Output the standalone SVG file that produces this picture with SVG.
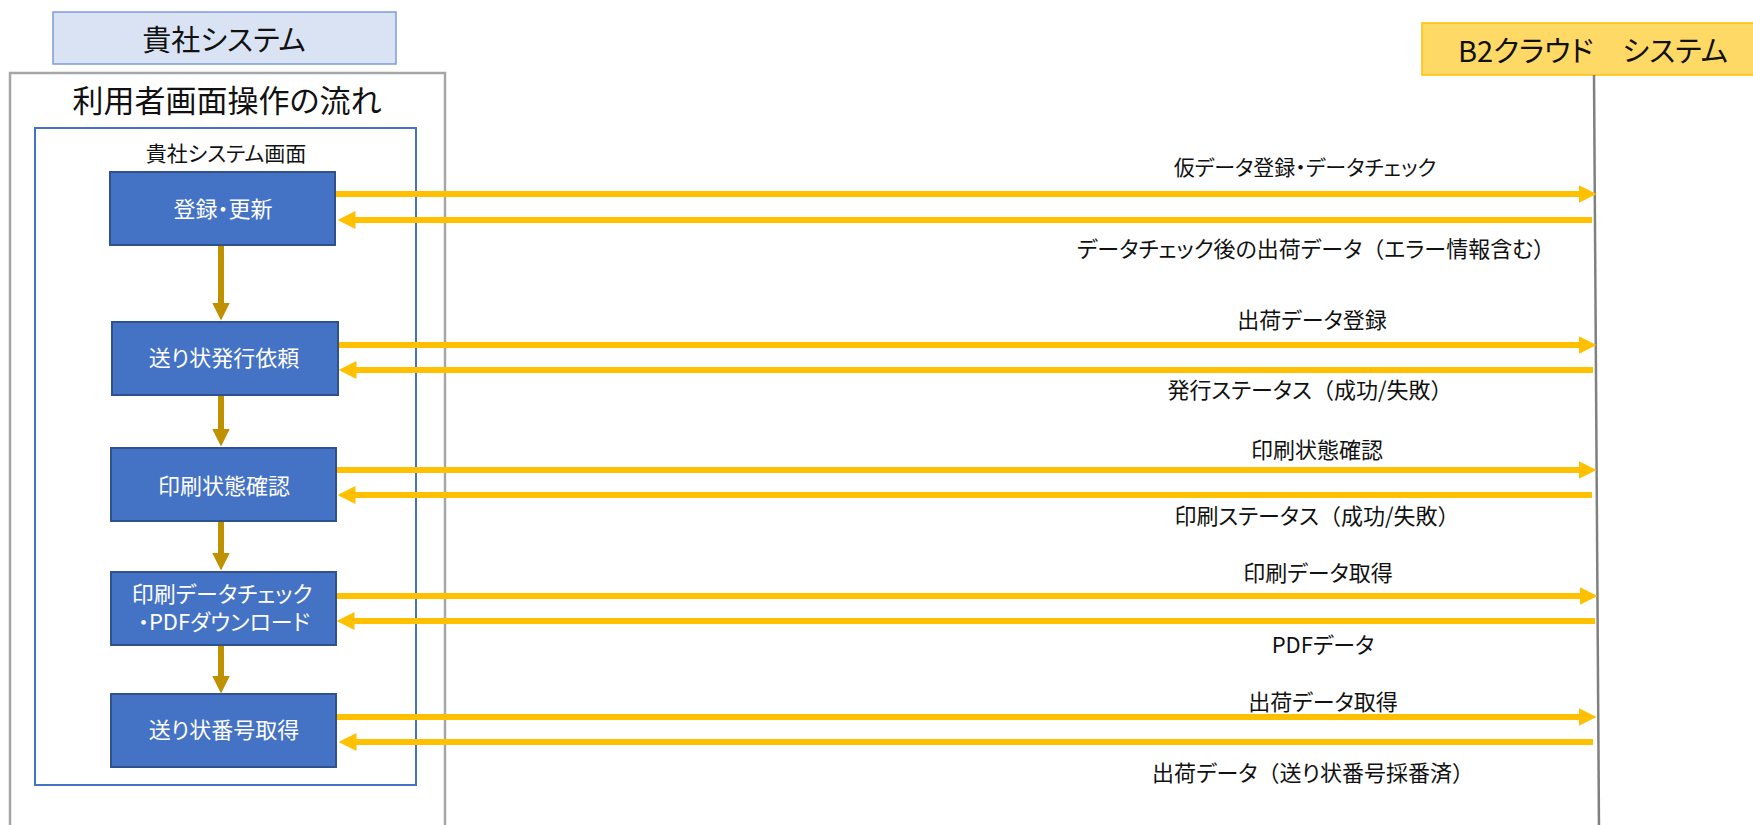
<svg xmlns="http://www.w3.org/2000/svg" width="1753" height="825" viewBox="0 0 1753 825">
<style>
text{font-family:"Noto Sans CJK JP","Noto Sans CJK SC",sans-serif;font-feature-settings:"palt";text-anchor:middle;fill:#111}
.p{font-feature-settings:normal}
.box{fill:#4472C4;stroke:#2F528F;stroke-width:2}
.bt{fill:#fff;font-size:22px}
.lbl{font-size:22px}
.req{stroke:#FFC000;stroke-width:6;fill:none}
.flow{stroke:#BF9000;stroke-width:6;fill:none}
</style>
<defs>
<marker id="hy" viewBox="0 0 18 18" refX="0.5" refY="9" markerWidth="18" markerHeight="18" markerUnits="userSpaceOnUse" orient="auto"><path d="M0,0 L18,9 L0,18 Z" fill="#FFC000"/></marker>
<marker id="hb" viewBox="0 0 18 18" refX="0.5" refY="9" markerWidth="18" markerHeight="18" markerUnits="userSpaceOnUse" orient="auto"><path d="M0,0 L18,9 L0,18 Z" fill="#BF9000"/></marker>
</defs>

<g id="header-client">
<rect x="53" y="12" width="343" height="52" fill="#DAE3F3" stroke="#7C9CDA" stroke-width="1.5"/>
<text x="224" y="51" style="font-size:29px">貴社システム</text>
</g>

<g id="frame-flow">
<path d="M10,830 V73 H445 V830" fill="none" stroke="#A6A6A6" stroke-width="2.5"/>
<text x="227" y="112" style="font-size:31px">利用者画面操作の流れ</text>
</g>

<g id="frame-screen">
<rect x="35" y="128" width="381" height="657" fill="none" stroke="#4472C4" stroke-width="2"/>
<text x="226" y="161" style="font-size:21px">貴社システム画面</text>
</g>

<g id="header-b2">
<rect x="1422" y="23" width="340" height="52" fill="#FFD966" stroke="#FFC000" stroke-width="1.5"/>
<text x="1593" y="62" style="font-size:29px">B2クラウド　システム</text>
</g>

<g id="lifeline">
<line x1="1594" y1="75" x2="1599" y2="830" stroke="#808080" stroke-width="2.5"/>
</g>

<g id="connectors">
<line class="flow" x1="221" y1="245" x2="221" y2="303" marker-end="url(#hb)"/>
<line class="flow" x1="221" y1="395" x2="221" y2="429" marker-end="url(#hb)"/>
<line class="flow" x1="221" y1="521" x2="221" y2="553" marker-end="url(#hb)"/>
<line class="flow" x1="221" y1="645" x2="221" y2="676" marker-end="url(#hb)"/>

<line class="req" x1="335" y1="194" x2="1579" y2="194" marker-end="url(#hy)"/>
<line class="req" x1="1592" y1="220" x2="355" y2="220" marker-end="url(#hy)"/>
<line class="req" x1="338" y1="345" x2="1579" y2="345" marker-end="url(#hy)"/>
<line class="req" x1="1593" y1="370" x2="356" y2="370" marker-end="url(#hy)"/>
<line class="req" x1="336" y1="470" x2="1579" y2="470" marker-end="url(#hy)"/>
<line class="req" x1="1592" y1="495" x2="355" y2="495" marker-end="url(#hy)"/>
<line class="req" x1="336" y1="596" x2="1580" y2="596" marker-end="url(#hy)"/>
<line class="req" x1="1595" y1="621" x2="354" y2="621" marker-end="url(#hy)"/>
<line class="req" x1="336" y1="717" x2="1579" y2="717" marker-end="url(#hy)"/>
<line class="req" x1="1593" y1="742" x2="356" y2="742" marker-end="url(#hy)"/>

<text class="lbl" x="1305" y="175" style="font-size:21px">仮データ登録・データチェック</text>
<text class="lbl" x="1316" y="257">データチェック後の出荷データ<tspan class="p">（</tspan>エラー情報含む<tspan class="p">）</tspan></text>
<text class="lbl" x="1312" y="328">出荷データ登録</text>
<text class="lbl" x="1310" y="398">発行ステータス<tspan class="p">（</tspan>成功/失敗<tspan class="p">）</tspan></text>
<text class="lbl" x="1317" y="458">印刷状態確認</text>
<text class="lbl" x="1317" y="524">印刷ステータス<tspan class="p">（</tspan>成功/失敗<tspan class="p">）</tspan></text>
<text class="lbl" x="1318" y="581">印刷データ取得</text>
<text class="lbl" x="1323" y="653">PDFデータ</text>
<text class="lbl" x="1323" y="710">出荷データ取得</text>
<text class="lbl" x="1313" y="781">出荷データ<tspan class="p">（</tspan>送り状番号採番済<tspan class="p">）</tspan></text>
</g>

<g id="node-register">
<rect class="box" x="110" y="172" width="225" height="73"/>
<text class="bt" x="223" y="217">登録・更新</text>
</g>
<g id="node-issue">
<rect class="box" x="112" y="322" width="226" height="73"/>
<text class="bt" x="224" y="366">送り状発行依頼</text>
</g>
<g id="node-printstatus">
<rect class="box" x="111" y="448" width="225" height="73"/>
<text class="bt" x="224" y="494">印刷状態確認</text>
</g>
<g id="node-pdf">
<rect class="box" x="111" y="572" width="225" height="73"/>
<text class="bt" x="222" y="602">印刷データチェック</text>
<text class="bt" x="224" y="630">・PDFダウンロード</text>
</g>
<g id="node-number">
<rect class="box" x="111" y="694" width="225" height="73"/>
<text class="bt" x="224" y="738">送り状番号取得</text>
</g>
</svg>
